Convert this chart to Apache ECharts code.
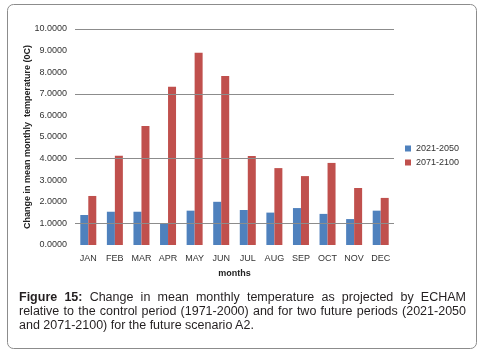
<!DOCTYPE html>
<html>
<head>
<meta charset="utf-8">
<script src="https://cdn.jsdelivr.net/npm/echarts@6/dist/echarts.min.js"></script>
<style>
  html, body { margin: 0; padding: 0; background: #fff; }
  #wrap { position: relative; width: 482px; height: 357px; }
  #chart { position: absolute; left: 0; top: 0; width: 482px; height: 357px; }
  #caption {
    position: absolute; left: 19px; top: 290px; width: 447px;
    font-family: "Liberation Sans", Arial, sans-serif; font-size: 12.5px;
    line-height: 14px; color: #231f20; text-align: justify;
  }
</style>
</head>
<body>
<div id="wrap">
  <div id="chart"></div>
  <div id="caption"><b>Figure 15:</b> Change in mean monthly temperature as projected by ECHAM relative to the control period (1971-2000) and for two future periods (2021-2050 and 2071-2100) for the future scenario A2.</div>
</div>
<script>
// months on the x axis
const months = ['JAN', 'FEB', 'MAR', 'APR', 'MAY', 'JUN', 'JUL', 'AUG', 'SEP', 'OCT', 'NOV', 'DEC']
// change in mean monthly temperature (0C)
const period2021 = [1.39, 1.54, 1.54, 1.00, 1.59, 2.00, 1.62, 1.50, 1.71, 1.44, 1.20, 1.59]
const period2071 = [2.27, 4.13, 5.51, 7.33, 8.90, 7.82, 4.12, 3.56, 3.19, 3.80, 2.64, 2.18]
// gridlines that are visible in the picture
const gridValues = [1, 4, 7, 10]

const chart = echarts.init(document.getElementById('chart'))
const font = '"Liberation Sans", Arial, sans-serif'
const textColor = '#333'

chart.setOption({
  animation: false,
  textStyle: { fontFamily: font },
  graphic: [
    {
      type: 'rect',
      silent: true,
      shape: { x: 7.5, y: 4.5, width: 469, height: 344, r: 6 },
      style: { fill: 'none', stroke: '#8c8c8c', lineWidth: 1 }
    }
  ],
  grid: {
    left: 75,
    right: 88,
    top: 29,
    bottom: 112
  },
  legend: {
    orient: 'vertical',
    left: 400,
    top: 139,
    icon: 'rect',
    itemWidth: 6,
    itemHeight: 6,
    itemGap: 5,
    textStyle: { fontSize: 9, color: textColor, fontFamily: font },
    data: ['2021-2050', '2071-2100']
  },
  xAxis: {
    type: 'category',
    data: months,
    name: 'months',
    nameLocation: 'middle',
    nameGap: 24,
    nameTextStyle: { fontSize: 9, fontWeight: 'bold', color: '#222' },
    axisLine: { show: false },
    axisTick: { show: false },
    axisLabel: { fontSize: 9, color: textColor, margin: 9 }
  },
  yAxis: {
    type: 'value',
    min: 0,
    max: 10,
    interval: 1,
    name: 'Change in mean monthly  temperature (0C)',
    nameLocation: 'middle',
    nameGap: 43,
    nameMoveOverlap: false,
    nameTextStyle: { fontSize: 9, fontWeight: 'bold', color: '#222' },
    axisLine: { show: false },
    axisTick: { show: false },
    splitLine: { show: false },
    axisLabel: {
      fontSize: 9,
      color: textColor,
      margin: 8,
      formatter: v => v.toFixed(4)
    }
  },
  series: [
    {
      name: '2021-2050',
      type: 'bar',
      barWidth: 8,
      barGap: '0%',
      itemStyle: { color: '#4f81bd' },
      data: period2021,
      markLine: {
        silent: true,
        symbol: 'none',
        label: { show: false },
        lineStyle: { color: '#8c8c8c', type: 'solid', width: 1 },
        data: gridValues.map(v => ({ yAxis: v }))
      }
    },
    {
      name: '2071-2100',
      type: 'bar',
      barWidth: 8,
      barGap: '0%',
      itemStyle: { color: '#c0504d' },
      data: period2071
    }
  ]
})
</script>
</body>
</html>
